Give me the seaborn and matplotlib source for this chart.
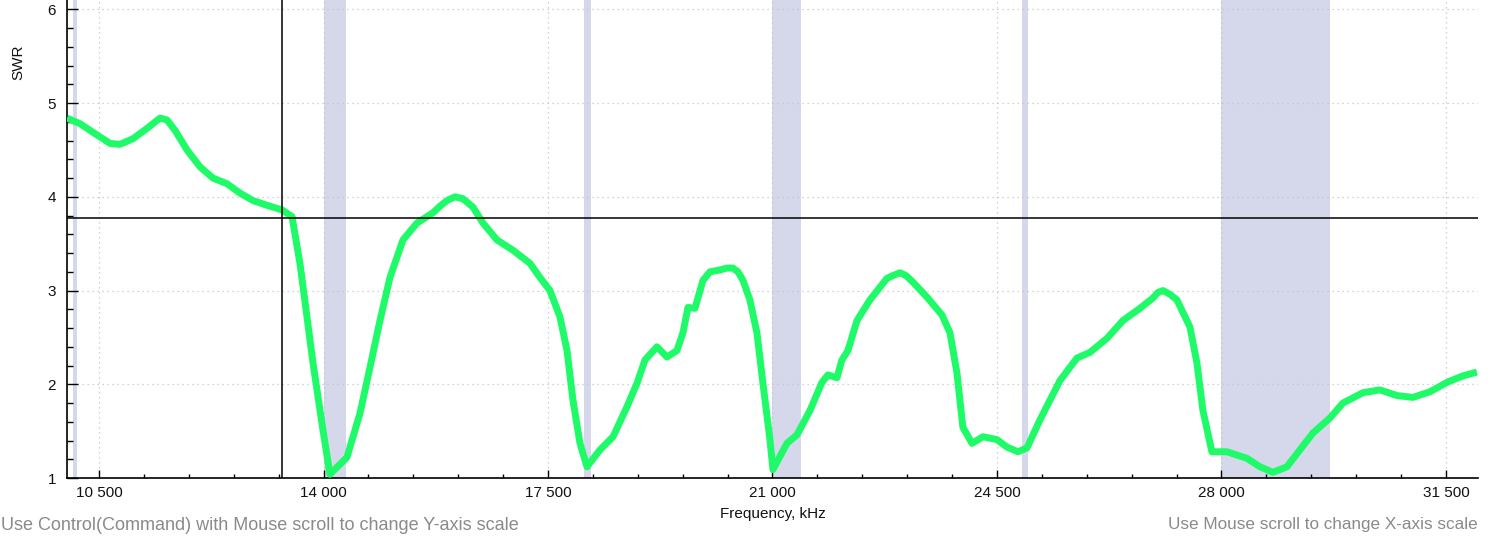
import matplotlib
matplotlib.use("Agg")
import matplotlib.pyplot as plt
import seaborn as sns
import pandas as pd
from matplotlib.ticker import MultipleLocator, FuncFormatter

# ---- data ----
freq_khz = [10000, 10203, 10468, 10670, 10826, 11029, 11247, 11450, 11559, 11684,
            11871, 12074, 12276, 12494, 12697, 12900, 13118, 13352, 13508, 13632,
            13835, 13991, 14100, 14365, 14568, 14724, 14880, 15036, 15238, 15457,
            15706, 15815, 15924, 16049, 16174, 16330, 16486, 16704, 16954, 17219,
            17374, 17530, 17686, 17796, 17889, 17998, 18107, 18310, 18513, 18731,
            18887, 19012, 19199, 19355, 19510, 19604, 19682, 19791, 19916, 20025,
            20181, 20290, 20383, 20461, 20539, 20648, 20757, 20851, 20960, 21007,
            21225, 21381, 21584, 21771, 21864, 22005, 22083, 22176, 22317, 22519,
            22784, 22878, 22987, 23081, 23190, 23408, 23642, 23767, 23876, 23969,
            24110, 24281, 24499, 24655, 24827, 24967, 25170, 25482, 25747, 25949,
            26215, 26464, 26729, 26932, 27010, 27088, 27197, 27306, 27509, 27617,
            27711, 27851, 28085, 28397, 28600, 28802, 29021, 29223, 29426, 29691,
            29894, 30206, 30470, 30735, 30985, 31250, 31515, 31765, 31983]
swr = [4.84, 4.78, 4.66, 4.57, 4.56, 4.62, 4.73, 4.84, 4.82, 4.71,
       4.50, 4.32, 4.20, 4.14, 4.04, 3.96, 3.91, 3.86, 3.79, 3.29,
       2.23, 1.51, 1.04, 1.22, 1.69, 2.18, 2.68, 3.14, 3.54, 3.72,
       3.83, 3.90, 3.96, 4.00, 3.98, 3.89, 3.72, 3.54, 3.43, 3.29,
       3.14, 3.00, 2.72, 2.36, 1.83, 1.37, 1.12, 1.30, 1.44, 1.76,
       2.01, 2.26, 2.40, 2.29, 2.36, 2.55, 2.82, 2.81, 3.11, 3.20,
       3.22, 3.24, 3.24, 3.20, 3.11, 2.90, 2.55, 2.01, 1.41, 1.09,
       1.37, 1.46, 1.72, 2.02, 2.10, 2.07, 2.26, 2.36, 2.68, 2.90,
       3.13, 3.16, 3.19, 3.16, 3.09, 2.93, 2.74, 2.55, 2.12, 1.54,
       1.37, 1.44, 1.41, 1.33, 1.28, 1.32, 1.62, 2.04, 2.28, 2.34,
       2.49, 2.68, 2.81, 2.92, 2.98, 3.00, 2.96, 2.90, 2.61, 2.23,
       1.72, 1.28, 1.28, 1.21, 1.12, 1.06, 1.12, 1.30, 1.48, 1.64,
       1.80, 1.91, 1.94, 1.88, 1.86, 1.92, 2.02, 2.09, 2.13]

# amateur bands (kHz)
band_lo = [10100, 14000, 18068, 21000, 24890, 28000]
band_hi = [10150, 14350, 18168, 21450, 24990, 29700]

cursor_freq = 13352
cursor_swr = 3.77

x_ticks = [10500, 14000, 17500, 21000, 24500, 28000, 31500]
y_ticks = [1, 2, 3, 4, 5, 6]

df = pd.DataFrame({"Frequency, kHz": freq_khz, "SWR": swr})

sns.set_theme(style="white")
plt.rcParams["font.family"] = ["Liberation Sans", "DejaVu Sans"]

fig = plt.figure(figsize=(15, 5.36), dpi=100)
ax = fig.add_axes([67 / 1500, 58 / 536, 1411 / 1500, 478 / 536])

for lo, hi in zip(band_lo, band_hi):
    ax.axvspan(lo, hi, color="#d5d7ea", lw=0, zorder=0)

sns.lineplot(data=df, x="Frequency, kHz", y="SWR", ax=ax, color="#1ffb68",
             linewidth=5.0, zorder=3, sort=False, solid_capstyle="butt",
             solid_joinstyle="round")

ax.axvline(cursor_freq, color="black", lw=1.1, zorder=4)
ax.axhline(cursor_swr, color="black", lw=1.1, zorder=4)

ax.set_xlim(10000, 32000)
ax.set_ylim(1, 6.1)
ax.set_xticks(x_ticks)
ax.set_yticks(y_ticks)
ax.xaxis.set_minor_locator(MultipleLocator(700))
ax.yaxis.set_minor_locator(MultipleLocator(0.2))
ax.xaxis.set_major_formatter(FuncFormatter(lambda v, p: f"{int(v):,}".replace(",", " ")))
ax.yaxis.set_major_formatter(FuncFormatter(lambda v, p: f"{int(v)}"))

ax.grid(True, which="major", color="#c4c4c4", linestyle=(0, (1, 3)), linewidth=0.9)
for s in ["top", "right"]:
    ax.spines[s].set_visible(False)
for s in ["left", "bottom"]:
    ax.spines[s].set_color("black")
    ax.spines[s].set_linewidth(1.2)

ax.tick_params(axis="x", which="major", direction="in", length=6, width=1, color="black",
               labelsize=11, pad=6, labelcolor="#111111")
ax.tick_params(axis="x", which="minor", direction="in", length=3, width=1, color="black")
ax.tick_params(axis="y", which="major", direction="in", length=8, width=1, color="black",
               labelsize=11, pad=8, labelcolor="#111111")
ax.tick_params(axis="y", which="minor", direction="in", length=4.5, width=1, color="black")
ax.tick_params(bottom=True, left=True, which="both")

ax.set_xlabel("Frequency, kHz", fontsize=11, color="#111111")
ax.set_ylabel("SWR", fontsize=11, color="#111111")
ax.xaxis.label.set_va("center")
ax.xaxis.set_label_coords(0.5, -36 / 478)
ax.yaxis.label.set_va("center")
ax.yaxis.set_label_coords(-49 / 1411, (478 - 62) / 478)

fig.text(0.0005, 11 / 536, "Use Control(Command) with Mouse scroll to change Y-axis scale",
         ha="left", va="center", fontsize=13.0, color="#8a8a8a")
fig.text(1478 / 1500, 11 / 536, "Use Mouse scroll to change X-axis scale",
         ha="right", va="center", fontsize=12.3, color="#8a8a8a")

fig.savefig("out.png", dpi=100)
